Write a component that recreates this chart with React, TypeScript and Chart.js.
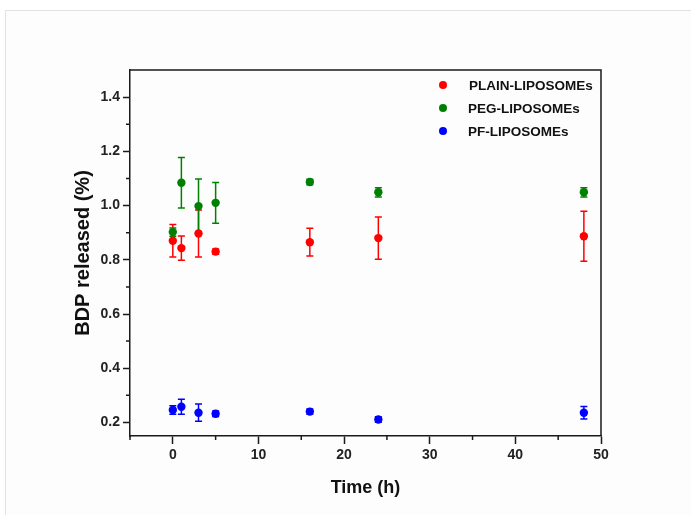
import { useEffect, useRef } from "react";
import { Chart, registerables } from "chart.js";

Chart.register(...registerables);

// ---- data ----
const times = [0, 1, 3, 5, 16, 24, 48];
const plainValues = [0.870, 0.843, 0.897, 0.830, 0.865, 0.880, 0.887];
const plainErrors = [0.060, 0.045, 0.087, 0.010, 0.051, 0.078, 0.092];
const pegValues = [0.902, 1.084, 0.998, 1.010, 1.087, 1.049, 1.049];
const pegErrors = [0.015, 0.093, 0.100, 0.075, 0.010, 0.017, 0.017];
const pfValues = [0.246, 0.258, 0.236, 0.232, 0.240, 0.211, 0.236];
const pfErrors = [0.016, 0.028, 0.032, 0.010, 0.010, 0.010, 0.023];

const seriesNames = ["PLAIN-LIPOSOMEs", "PEG-LIPOSOMEs", "PF-LIPOSOMEs"];
const seriesColors = ["#ff0000", "#008000", "#0000ff"];
const seriesValues = [plainValues, pegValues, pfValues];
const seriesErrors = [plainErrors, pegErrors, pfErrors];

const xMajorTicks = [0, 10, 20, 30, 40, 50];
const xMinorTicks = [-5, 5, 15, 25, 35, 45];
const yMajorTicks = [0.2, 0.4, 0.6, 0.8, 1.0, 1.2, 1.4];
const yMinorTicks = [0.3, 0.5, 0.7, 0.9, 1.1, 1.3];

const FONT = "'Liberation Sans', Arial, sans-serif";
const AXIS_COLOR = "#1a1a1a";

const errorBarPlugin = {
  id: "errorBars",
  beforeDatasetsDraw(chart: any) {
    const { ctx, scales } = chart;
    const x = scales.x;
    const y = scales.y;
    seriesValues.forEach((vals, si) => {
      ctx.save();
      ctx.strokeStyle = seriesColors[si];
      ctx.lineWidth = 1.5;
      vals.forEach((v, i) => {
        const e = seriesErrors[si][i];
        const px = x.getPixelForValue(times[i]);
        const top = y.getPixelForValue(v + e);
        const bot = y.getPixelForValue(v - e);
        ctx.beginPath();
        ctx.moveTo(px, top);
        ctx.lineTo(px, bot);
        ctx.moveTo(px - 3.5, top);
        ctx.lineTo(px + 3.5, top);
        ctx.moveTo(px - 3.5, bot);
        ctx.lineTo(px + 3.5, bot);
        ctx.stroke();
      });
      ctx.restore();
    });
  },
};

const framePlugin = {
  id: "frameAndMinor",
  afterDraw(chart: any) {
    const { ctx, chartArea, scales } = chart;
    const x = scales.x;
    const y = scales.y;
    ctx.save();
    ctx.strokeStyle = AXIS_COLOR;
    ctx.lineWidth = 1.5;
    ctx.beginPath();
    ctx.moveTo(chartArea.left, chartArea.top);
    ctx.lineTo(chartArea.right, chartArea.top);
    ctx.lineTo(chartArea.right, chartArea.bottom);
    ctx.stroke();
    ctx.beginPath();
    // small overhang of the y axis below the x axis (Origin style corner)
    ctx.moveTo(chartArea.left, chartArea.bottom);
    ctx.lineTo(chartArea.left, chartArea.bottom + 4);
    xMinorTicks.forEach((v) => {
      const px = x.getPixelForValue(v);
      ctx.moveTo(px, chartArea.bottom);
      ctx.lineTo(px, chartArea.bottom + 4);
    });
    yMinorTicks.forEach((v) => {
      const py = y.getPixelForValue(v);
      ctx.moveTo(chartArea.left - 4, py);
      ctx.lineTo(chartArea.left, py);
    });
    ctx.stroke();

    // legend inside plot area
    ctx.font = `bold 13.5px ${FONT}`;
    ctx.textBaseline = "middle";
    ctx.textAlign = "left";
    seriesNames.forEach((name, i) => {
      const cy = chartArea.top + 15 + i * 23;
      const cx = chartArea.right - 158;
      ctx.fillStyle = seriesColors[i];
      ctx.beginPath();
      ctx.arc(cx, cy, 4, 0, Math.PI * 2);
      ctx.fill();
      ctx.fillStyle = "#111";
      ctx.fillText(name, chartArea.right - 133 + (i === 0 ? 1 : 0), cy + 1);
    });
    ctx.restore();
  },
};

export default function App() {
  const ref = useRef<HTMLCanvasElement>(null);

  useEffect(() => {
    if (!ref.current) return;
    const chart = new Chart(ref.current, {
      type: "scatter",
      data: {
        datasets: seriesValues.map((vals, si) => ({
          label: seriesNames[si],
          data: vals.map((v, i) => ({ x: times[i], y: v })),
          backgroundColor: seriesColors[si],
          borderColor: seriesColors[si],
          pointRadius: 4.2,
          pointBorderWidth: 0,
          showLine: false,
        })),
      },
      options: {
        responsive: false,
        animation: false,
        layout: { padding: { left: 0, top: 70, right: 90, bottom: 0 } },
        plugins: {
          legend: { display: false },
          tooltip: { enabled: false },
        },
        scales: {
          x: {
            type: "linear",
            min: -5,
            max: 50,
            afterBuildTicks: (scale: any) => {
              scale.ticks = xMajorTicks.map((v) => ({ value: v }));
            },
            afterFit: (scale: any) => {
              scale.height = 79;
            },
            grid: {
              drawOnChartArea: false,
              drawTicks: true,
              tickLength: 8,
              tickColor: AXIS_COLOR,
              tickWidth: 1.5,
            },
            border: { display: true, color: AXIS_COLOR, width: 1.5 },
            ticks: {
              color: "#222",
              padding: 3,
              maxRotation: 0,
              font: { family: FONT, size: 14, weight: "bold" },
              callback: (v: any) => String(v),
            },
            title: {
              display: true,
              text: "Time (h)",
              color: "#111",
              font: { family: FONT, size: 18, weight: "bold" },
              padding: { top: 0, bottom: 16 },
            },
          },
          y: {
            type: "linear",
            min: 0.15,
            max: 1.5,
            afterBuildTicks: (scale: any) => {
              scale.ticks = yMajorTicks.map((v) => ({ value: v }));
            },
            afterFit: (scale: any) => {
              scale.width = 130;
            },
            grid: {
              drawOnChartArea: false,
              drawTicks: true,
              tickLength: 7,
              tickColor: AXIS_COLOR,
              tickWidth: 1.5,
            },
            border: { display: true, color: AXIS_COLOR, width: 1.5 },
            ticks: {
              color: "#222",
              padding: 3,
              font: { family: FONT, size: 14, weight: "bold" },
              callback: (v: any) => Number(v).toFixed(1),
            },
            title: {
              display: true,
              text: "BDP released (%)",
              color: "#111",
              font: { family: FONT, size: 20, weight: "bold" },
              padding: { top: 71, bottom: 0 },
            },
          },
        },
      },
      plugins: [errorBarPlugin, framePlugin],
    });
    return () => chart.destroy();
  }, []);

  return (
    <div style={{ position: "fixed", left: 0, top: 0, width: 691, height: 515, background: "#ffffff" }}>
      <div
        style={{
          position: "absolute",
          left: 5,
          top: 10,
          right: 0,
          bottom: 0,
          borderTop: "1px solid #e2e2e2",
          borderLeft: "1px solid #e2e2e2",
          background: "#fdfdfd",
        }}
      />
      <canvas ref={ref} width={691} height={515} style={{ position: "absolute", left: 0, top: 0 }} />
    </div>
  );
}
